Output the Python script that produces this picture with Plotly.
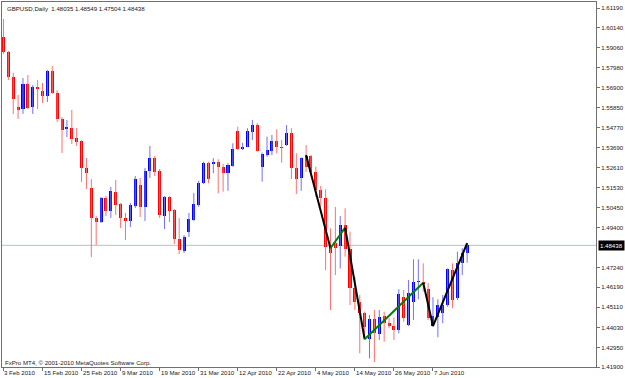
import plotly.graph_objects as go

# ---------------- DATA ----------------
opens = [1.5963, 1.5883, 1.5748, 1.5587, 1.5576, 1.5711, 1.5587, 1.5697, 1.5673, 1.5646,
         1.5781, 1.5662, 1.5523, 1.5469, 1.5474, 1.5421, 1.5404, 1.5259, 1.5152, 1.4991,
         1.4967, 1.5097, 1.5026, 1.5130, 1.5066, 1.4992, 1.4976, 1.5055, 1.5168, 1.5050,
         1.5243, 1.5313, 1.5243, 1.5001, 1.5104, 1.5034, 1.4878, 1.4815, 1.4917, 1.4980,
         1.5061, 1.5177, 1.5288, 1.5279, 1.5293, 1.5263, 1.5234, 1.5270, 1.5458, 1.5360,
         1.5374, 1.5454, 1.5490, 1.5266, 1.5329, 1.5352, 1.5404, 1.5372, 1.5383, 1.5449,
         1.5258, 1.5204, 1.5324, 1.5324, 1.5239, 1.5141, 1.5097, 1.4837, 1.4856, 1.4842,
         1.4953, 1.4823, 1.4613, 1.4541, 1.4479, 1.4339, 1.4446, 1.4367, 1.4464, 1.4425,
         1.4410, 1.4389, 1.4568, 1.4416, 1.4541, 1.4647, 1.4648, 1.4609, 1.4410, 1.4460,
         1.4480, 1.4523, 1.4711, 1.4559, 1.4747, 1.48035]
highs = [1.6060, 1.5888, 1.5770, 1.5652, 1.5743, 1.5759, 1.5705, 1.5732, 1.5716, 1.5786,
         1.5807, 1.5678, 1.5533, 1.5517, 1.5571, 1.5474, 1.5410, 1.5313, 1.5200, 1.5001,
         1.5104, 1.5109, 1.5157, 1.5195, 1.5071, 1.5018, 1.5071, 1.5216, 1.5206, 1.5259,
         1.5378, 1.5324, 1.5254, 1.5109, 1.5109, 1.5039, 1.4991, 1.4899, 1.5018, 1.5125,
         1.5191, 1.5293, 1.5293, 1.5312, 1.5306, 1.5281, 1.5285, 1.5392, 1.5481, 1.5395,
         1.5473, 1.5517, 1.5500, 1.5342, 1.5428, 1.5437, 1.5467, 1.5410, 1.5490, 1.5473,
         1.5338, 1.5317, 1.5383, 1.5329, 1.5266, 1.5163, 1.5145, 1.4935, 1.5050, 1.5001,
         1.5043, 1.4917, 1.4675, 1.4577, 1.4487, 1.4470, 1.4496, 1.4496, 1.4487, 1.4452,
         1.4457, 1.4608, 1.4604, 1.4658, 1.4769, 1.4769, 1.4747, 1.4641, 1.4565, 1.4554,
         1.4577, 1.4720, 1.4747, 1.4810, 1.4828, 1.48549]
lows = [1.5872, 1.5732, 1.5550, 1.5523, 1.5550, 1.5576, 1.5550, 1.5576, 1.5609, 1.5614,
        1.5657, 1.5507, 1.5340, 1.5426, 1.5388, 1.5378, 1.5184, 1.5147, 1.4781, 1.4846,
        1.4964, 1.5001, 1.4991, 1.5007, 1.4937, 1.4873, 1.4942, 1.5044, 1.4996, 1.4975,
        1.5206, 1.5216, 1.4991, 1.4932, 1.4969, 1.4851, 1.4797, 1.4803, 1.4889, 1.4975,
        1.5051, 1.5173, 1.5177, 1.5231, 1.5123, 1.5132, 1.5137, 1.5266, 1.5356, 1.5356,
        1.5371, 1.5410, 1.5347, 1.5186, 1.5320, 1.5329, 1.5338, 1.5288, 1.5378, 1.5200,
        1.5120, 1.5137, 1.5239, 1.5213, 1.5105, 1.5051, 1.4711, 1.4496, 1.4684, 1.4720,
        1.4783, 1.4523, 1.4496, 1.4264, 1.4338, 1.4237, 1.4217, 1.4335, 1.4326, 1.4398,
        1.4335, 1.4371, 1.4434, 1.4410, 1.4443, 1.4554, 1.4595, 1.4443, 1.4407, 1.4350,
        1.4425, 1.4514, 1.4506, 1.4550, 1.4684, 1.47504]
closes = [1.5883, 1.5748, 1.5630, 1.5571, 1.5711, 1.5582, 1.5695, 1.5687, 1.5646, 1.5781,
          1.5662, 1.5523, 1.5464, 1.5477, 1.5415, 1.5399, 1.5259, 1.5233, 1.4991, 1.4967,
          1.5097, 1.5028, 1.5137, 1.5061, 1.4993, 1.4975, 1.5061, 1.5200, 1.5050, 1.5243,
          1.5313, 1.5238, 1.5007, 1.5104, 1.5028, 1.4878, 1.4819, 1.4890, 1.4984, 1.5066,
          1.5180, 1.5288, 1.5199, 1.5293, 1.5263, 1.5234, 1.5276, 1.5361, 1.5361, 1.5374,
          1.5460, 1.5490, 1.5352, 1.5335, 1.5356, 1.5404, 1.5371, 1.5367, 1.5449, 1.5258,
          1.5199, 1.5312, 1.5266, 1.5239, 1.5141, 1.5097, 1.4837, 1.4801, 1.4830, 1.4953,
          1.4823, 1.4613, 1.4541, 1.4479, 1.4407, 1.4446, 1.4371, 1.4457, 1.4425, 1.4410,
          1.4389, 1.4582, 1.4452, 1.4589, 1.4648, 1.4652, 1.4636, 1.4452, 1.4464, 1.4523,
          1.4523, 1.4715, 1.4550, 1.4747, 1.4801, 1.48438]

# zigzag vertices (bar index, price) and segment colours
zz_bars = [62, 67, 70, 74, 86, 88, 95]
zz_prices = [1.5329, 1.4828, 1.4939, 1.4339, 1.4643, 1.4410, 1.4856]
zz_colors = ["black", "green", "black", "green", "black", "black"]

date_labels = ["3 Feb 2010", "15 Feb 2010", "25 Feb 2010", "9 Mar 2010", "19 Mar 2010",
               "31 Mar 2010", "12 Apr 2010", "22 Apr 2010", "4 May 2010", "14 May 2010",
               "26 May 2010", "7 Jun 2010"]
date_bars = [0, 8, 16, 24, 32, 40, 48, 56, 64, 72, 80, 88]

price_ticks = [1.61190, 1.60140, 1.59060, 1.57980, 1.56900, 1.55850, 1.54770, 1.53690,
               1.52610, 1.51530, 1.50450, 1.49400, 1.47240, 1.46190, 1.45110, 1.44030,
               1.42950, 1.41900]
last_price = 1.48438
header = "GBPUSD,Daily  1.48035 1.48549 1.47504 1.48438"
footer = "FxPro MT4, \u00a9 2001-2010 MetaQuotes Software Corp."

# ---------------- FIGURE ----------------
UP = "#0000FF"
DN = "#FF0000"
UP_W = "#7070FF"
DN_W = "#FF7070"

n = len(opens)
idx = list(range(n))

fig = go.Figure()

# wicks
for up, col in ((True, UP_W), (False, DN_W)):
    xs, ys = [], []
    for i in idx:
        if (closes[i] >= opens[i]) == up:
            xs += [i, i, None]
            ys += [lows[i], highs[i], None]
    fig.add_trace(go.Scatter(x=xs, y=ys, mode="lines", line=dict(color=col, width=1),
                             hoverinfo="skip", showlegend=False))

# bodies
base = [min(o, c) for o, c in zip(opens, closes)]
height = [max(abs(c - o), 0.0004) for o, c in zip(opens, closes)]
colors = [UP if c >= o else DN for o, c in zip(opens, closes)]
fig.add_trace(go.Bar(x=idx, y=height, base=base, width=0.62,
                     marker=dict(color=colors, line=dict(width=0)),
                     showlegend=False, hoverinfo="skip"))

# zigzag
for k in range(len(zz_bars) - 1):
    fig.add_trace(go.Scatter(x=zz_bars[k:k + 2], y=zz_prices[k:k + 2], mode="lines",
                             line=dict(color=zz_colors[k], width=2),
                             showlegend=False, hoverinfo="skip"))

fig.add_shape(type="line", xref="paper", x0=0, x1=1, yref="y", y0=last_price, y1=last_price,
              line=dict(color="#B4C0D0", width=1), layer="below")

FONT = "Liberation Sans"
TS = 6.1
ann = []
for b, t in zip(date_bars, date_labels):
    ann.append(dict(x=b, y=0, xref="x", yref="paper", text=t, showarrow=False,
                    xanchor="left", yanchor="top", xshift=-1, yshift=0,
                    font=dict(family=FONT, size=TS, color="#202020")))
ann.append(dict(x=0.005, y=1, xref="paper", yref="paper", text=header, showarrow=False,
                xanchor="left", yanchor="top", yshift=-1,
                font=dict(family=FONT, size=TS, color="#202020")))
ann.append(dict(x=0.002, y=0.012, xref="paper", yref="paper", text=footer, showarrow=False,
                xanchor="left", yanchor="middle",
                font=dict(family=FONT, size=TS, color="#202020")))
ann.append(dict(x=1, y=last_price, xref="paper", yref="y", text=f"{last_price:.5f}",
                showarrow=False, xanchor="left", yanchor="middle", xshift=2,
                bgcolor="black", borderpad=1,
                font=dict(family=FONT, size=TS, color="white")))

fig.update_layout(
    width=625, height=378,
    margin=dict(l=1, r=24, t=2, b=11),
    paper_bgcolor="white", plot_bgcolor="white",
    barmode="overlay", bargap=0,
    annotations=ann,
    showlegend=False,
)
fig.update_xaxes(range=[-0.30, 121.4], showgrid=False, zeroline=False,
                 showline=True, mirror=True, linecolor="#707070", linewidth=1,
                 tickmode="array", tickvals=date_bars, ticktext=[""] * len(date_bars),
                 ticks="outside", ticklen=3, tickcolor="#707070")
fig.update_yaxes(range=[1.41901, 1.61513], side="right", showgrid=False, zeroline=False,
                 showline=True, mirror=True, linecolor="#707070", linewidth=1,
                 tickmode="array", tickvals=price_ticks,
                 ticktext=[f"{v:.5f}" for v in price_ticks],
                 ticks="outside", ticklen=3, tickcolor="#707070",
                 tickfont=dict(family=FONT, size=TS, color="#202020"))

fig.write_html("out.html")
